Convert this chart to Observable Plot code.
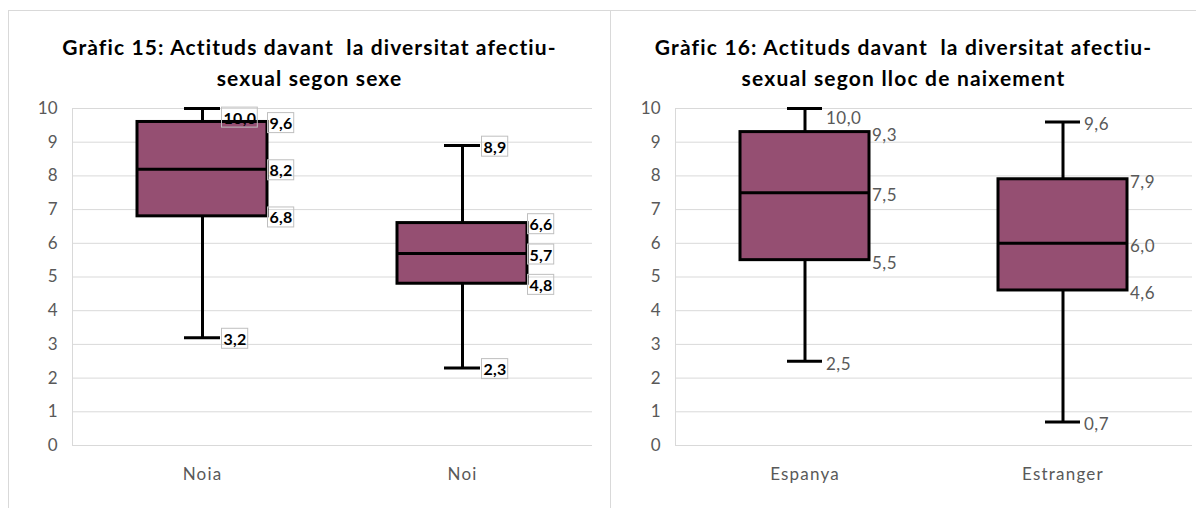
<!DOCTYPE html>
<html><head><meta charset="utf-8">
<script src="https://cdn.jsdelivr.net/npm/d3@7"></script>
<script src="https://cdn.jsdelivr.net/npm/@observablehq/plot@0.6"></script>
<style>
body{margin:0;background:#fff;}
#wrap{position:relative;width:1196px;height:508px;overflow:hidden;background:#fff;font-family:Lato,"Open Sans",sans-serif}
.line{position:absolute;background:#d9d9d9}
.title{position:absolute;top:31px;text-align:center;font-weight:bold;font-size:21px;line-height:31px;color:#000;white-space:pre}
.title span{display:inline-block}
.plot{position:absolute;top:90px}
</style></head><body>
<div id="wrap">
  <div class="line" style="left:8px;top:10px;width:1188px;height:1px"></div>
  <div class="line" style="left:8px;top:10px;width:1px;height:498px"></div>
  <div class="line" style="left:610px;top:10px;width:1px;height:498px"></div>
  <div class="title" id="t1" style="left:9px;width:601px"></div>
  <div class="title" id="t2" style="left:611px;width:585px"></div>
  <div class="plot" id="p1" style="left:0px"></div>
  <div class="plot" id="p2" style="left:600px"></div>
</div>
<script>
// ---- data ----
const title15 = ["Gràfic 15: Actituds davant  la diversitat afectiu-", "sexual segon sexe"];
const title16 = ["Gràfic 16: Actituds davant  la diversitat afectiu-", "sexual segon lloc de naixement"];

const sexCategories = ["Noia", "Noi"];
const sexMin    = [3.2, 2.3];
const sexQ1     = [6.8, 4.8];
const sexMedian = [8.2, 5.7];
const sexQ3     = [9.6, 6.6];
const sexMax    = [10.0, 8.9];

const birthCategories = ["Espanya", "Estranger"];
const birthMin    = [2.5, 0.7];
const birthQ1     = [5.5, 4.6];
const birthMedian = [7.5, 6.0];
const birthQ3     = [9.3, 7.9];
const birthMax    = [10.0, 9.6];

const yTicks = [0, 1, 2, 3, 4, 5, 6, 7, 8, 9, 10];

// ---- helpers ----
const locale = d3.formatLocale({decimal: ",", thousands: ".", grouping: [3], currency: ["", "€"]});
const fmt = locale.format(".1f");

function setTitle(id, lines, firstLineWidth) {
  const el = document.getElementById(id);
  const spans = lines.map((l, i) => {
    const s = document.createElement("span");
    s.textContent = l;
    el.appendChild(s);
    if (i < lines.length - 1) el.appendChild(document.createElement("br"));
    return s;
  });
  // widen letter spacing so the first line spans the same width as in the reference
  const w = spans[0].getBoundingClientRect().width;
  const n = lines[0].length;
  const ls = (firstLineWidth - w) / n;
  spans.forEach(s => s.style.letterSpacing = ls + "px");
}
setTitle("t1", title15, 495);
setTitle("t2", title16, 498);

function panel(target, categories, mins, q1s, meds, q3s, maxs, cfg) {
  const rows = categories.map((c, i) => ({cat: c, min: mins[i], q1: q1s[i], med: meds[i], q3: q3s[i], max: maxs[i]}));
  const capLabels = rows.flatMap(r => [{cat: r.cat, v: r.max}, {cat: r.cat, v: r.min}]);
  const boxLabels = rows.flatMap(r => [{cat: r.cat, v: r.q3}, {cat: r.cat, v: r.med}, {cat: r.cat, v: r.q1}]);
  const top = d => d.v > 9.7;
  const labelStyle = {
    fontSize: cfg.labelSize,
    fontWeight: cfg.bold ? "bold" : "normal",
    fill: cfg.labelColor,
    textAnchor: "start"
  };
  const chart = Plot.plot({
    width: cfg.width,
    height: 400,
    marginLeft: cfg.marginLeft,
    marginRight: cfg.marginRight,
    marginTop: 18,
    marginBottom: 45,
    style: {fontFamily: "Lato, 'Open Sans', sans-serif", fontSize: "16px", color: "#595959", background: "transparent"},
    x: {type: "band", domain: categories, paddingInner: 0.5, paddingOuter: 0.25, label: null},
    y: {domain: [0, 10], label: null},
    marks: [
      Plot.gridY(yTicks, {stroke: "#d9d9d9", strokeOpacity: 1, strokeWidth: 1}),
      Plot.frame({anchor: "left", stroke: "#d9d9d9"}),
      Plot.axisY(yTicks, {tickSize: 0, tickPadding: 15, fill: "#595959", fontSize: 17, tickFormat: d => String(d), label: null}),
      Plot.axisX({tickSize: 0, tickPadding: 22, fill: "#595959", fontSize: 17, label: null}),
      Plot.ruleX(rows, {x: "cat", y1: "min", y2: "max", stroke: "black", strokeWidth: 3}),
      Plot.tickY(rows, {x: "cat", y: "max", inset: 47, stroke: "black", strokeWidth: 3}),
      Plot.tickY(rows, {x: "cat", y: "min", inset: 47, stroke: "black", strokeWidth: 3}),
      Plot.barY(rows, {x: "cat", y1: "q1", y2: "q3", fill: "#954F72", stroke: "black", strokeWidth: 3}),
      Plot.tickY(rows, {x: "cat", y: "med", stroke: "black", strokeWidth: 3}),
      Plot.text(capLabels.filter(d => !top(d)), {x: "cat", y: "v", text: d => fmt(d.v), dx: 21, dy: cfg.dy, ...labelStyle}),
      Plot.text(capLabels.filter(top), {x: "cat", y: "v", text: d => fmt(d.v), dx: 21, dy: 10, ...labelStyle}),
      Plot.text(boxLabels, {x: "cat", y: "v", text: d => fmt(d.v), dx: 67, dy: cfg.dy, ...labelStyle})
    ]
  });
  document.getElementById(target).appendChild(chart);
  // category labels: slightly wider tracking like the reference
  chart.querySelectorAll("text").forEach(t => {
    if (categories.includes(t.textContent.trim())) t.style.letterSpacing = "1.2px";
  });
  const labelTexts = Array.from(chart.querySelectorAll("text")).filter(t => /^\d+,\d$/.test(t.textContent.trim()));
  labelTexts.forEach(t => t.style.letterSpacing = cfg.labelSpacing + "px");
  if (cfg.boxed) {
    const ns = "http://www.w3.org/2000/svg";
    labelTexts.forEach(t => {
      const b = t.getBBox();
      const r = document.createElementNS(ns, "rect");
      r.setAttribute("x", b.x - 2);
      r.setAttribute("y", b.y - 0.5);
      r.setAttribute("width", b.width + 3);
      r.setAttribute("height", b.height + 1);
      r.setAttribute("fill", "none");
      r.setAttribute("stroke", "#bfbfbf");
      r.setAttribute("stroke-width", "1");
      const tr = t.getAttribute("transform");
      if (tr) r.setAttribute("transform", tr);
      t.parentNode.insertBefore(r, t);
    });
  }
}

panel("p1", sexCategories, sexMin, sexQ1, sexMedian, sexQ3, sexMax,
  {width: 600, marginLeft: 72, marginRight: 8, bold: true, labelColor: "black", labelSize: 16, labelSpacing: 0.3, boxed: true, dy: 2});
panel("p2", birthCategories, birthMin, birthQ1, birthMedian, birthQ3, birthMax,
  {width: 596, marginLeft: 75, marginRight: 4, bold: false, labelColor: "#595959", labelSize: 17, labelSpacing: 0.5, boxed: false, dy: 3});
</script>
</body></html>
